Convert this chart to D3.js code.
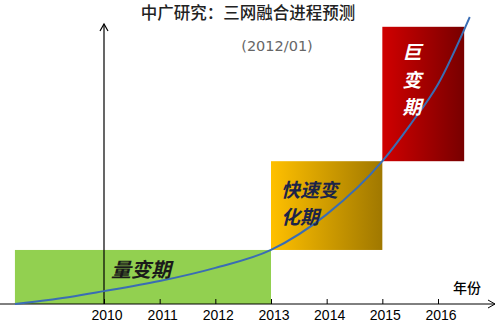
<!DOCTYPE html>
<html><head><meta charset="utf-8">
<script src="https://cdn.jsdelivr.net/npm/d3@7"></script>
<style>body{margin:0;background:#fff}svg{display:block}</style>
</head><body>
<svg id="c" width="500" height="322"></svg>
<script>
// ---- data ----
const title = "中广研究：三网融合进程预测";
const subtitle = "(2012/01)";
const tickYears = [2010, 2011, 2012, 2013, 2014, 2015, 2016];
const axisLabel = "年份";
const curveYears  = [2008.4, 2009, 2010, 2011, 2012, 2013, 2014, 2015, 2015.5, 2016, 2016.57];
const curveValues = [0, 1.4, 4.6, 8.2, 12.9, 19.3, 32, 51, 64, 78.5, 102.5];
const periodNames  = ["量变期", "快速变化期", "巨变期"];
const periodStarts = [2008.4, 2013, 2015];
const periodEnds   = [2013, 2015, 2016.47];
const periodLows   = [0, 19.3, 51];
const periodHighs  = [19.3, 51, 99];

// ---- scales ----
const svg = d3.select("#c");
const x = d3.scaleLinear().domain([2010, 2016]).range([104, 438]);
const y = d3.scaleLinear().domain([0, 100]).range([304, 24]);

const defs = svg.append("defs");
const grads = [
  ["g0", "#92d050", "#92d050"],
  ["g1", "#ffc000", "#a07800"],
  ["g2", "#d00000", "#780000"]
];
grads.forEach(([id, a, b]) => {
  const g = defs.append("linearGradient").attr("id", id).attr("x1", "0%").attr("x2", "100%").attr("y1", "0%").attr("y2", "0%");
  g.append("stop").attr("offset", "0%").attr("stop-color", a);
  g.append("stop").attr("offset", "100%").attr("stop-color", b);
});

// period rects
svg.selectAll("rect.p").data(periodNames).join("rect").attr("class", "p")
  .attr("x", (d, i) => x(periodStarts[i]))
  .attr("width", (d, i) => x(periodEnds[i]) - x(periodStarts[i]))
  .attr("y", (d, i) => y(periodHighs[i]))
  .attr("height", (d, i) => y(periodLows[i]) - y(periodHighs[i]))
  .attr("fill", (d, i) => `url(#g${i})`);

// axes
const axisG = svg.append("g");
axisG.append("line").attr("x1", 0).attr("x2", 495).attr("y1", y(0)).attr("y2", y(0)).attr("stroke", "#000").attr("stroke-width", 1);
axisG.append("path").attr("d", `M488,${y(0)-4}L495,${y(0)}L488,${y(0)+4}`).attr("fill", "none").attr("stroke", "#000");
axisG.append("line").attr("x1", x(2010)).attr("x2", x(2010)).attr("y1", y(0)).attr("y2", y(100)).attr("stroke", "#000").attr("stroke-width", 1.2);
axisG.append("path").attr("d", `M${x(2010)-4},${y(100)+7}L${x(2010)},${y(100)}L${x(2010)+4},${y(100)+7}`).attr("fill", "none").attr("stroke", "#000").attr("stroke-width", 1.2);

const xa = svg.append("g").attr("transform", `translate(0,${y(0)})`)
  .call(d3.axisTop(x).tickValues(tickYears).tickFormat(d3.format("d")).tickSize(5).tickPadding(0));
xa.select(".domain").remove();
xa.selectAll("text").remove();
svg.append("g").selectAll("text").data(tickYears).join("text")
  .attr("x", d => x(d) + 3).attr("y", 320).attr("text-anchor", "middle")
  .attr("font-family", "Liberation Sans, Arial, sans-serif").attr("font-size", 14).attr("fill", "#000")
  .text(d => d);

// curve
svg.append("path").datum(curveYears.map((d, i) => [d, curveValues[i]]))
  .attr("d", d3.line().x(d => x(d[0])).y(d => y(d[1])).curve(d3.curveMonotoneX))
  .attr("fill", "none").attr("stroke", "#3a6db4").attr("stroke-width", 2);

// texts
const cjk = "'Noto Sans CJK SC', sans-serif";
svg.append("text").attr("x", 248).attr("y", 19).attr("text-anchor", "middle")
  .attr("font-family", cjk).attr("font-size", 16.5).attr("font-weight", 500).attr("fill", "#222").text(title);
svg.append("text").attr("x", 277).attr("y", 51).attr("text-anchor", "middle")
  .attr("font-family", "DejaVu Sans, sans-serif").attr("font-size", 14.5).attr("fill", "#666").text(subtitle);
svg.append("text").attr("x", 467).attr("y", 293).attr("text-anchor", "middle")
  .attr("font-family", cjk).attr("font-size", 14).attr("font-weight", 500).attr("fill", "#000").text(axisLabel);

svg.append("text").attr("x", 141).attr("y", 277).attr("text-anchor", "middle")
  .attr("font-family", cjk).attr("font-size", 20).attr("font-weight", 600).attr("font-style", "italic").attr("fill", "#1a1a1a")
  .text(periodNames[0]);
const n1 = periodNames[1];
[n1.slice(0, 3), n1.slice(3)].forEach((t, i) => {
  svg.append("text").attr("x", 281).attr("y", 197 + i * 27)
    .attr("font-family", cjk).attr("font-size", 19).attr("font-weight", 600).attr("font-style", "italic").attr("fill", "#1c2448").text(t);
});
Array.from(periodNames[2]).forEach((t, i) => {
  svg.append("text").attr("x", 412).attr("y", 59 + i * 27.5).attr("text-anchor", "middle")
    .attr("font-family", cjk).attr("font-size", 19).attr("font-weight", 600).attr("font-style", "italic").attr("fill", "#fff").text(t);
});
</script>
</body></html>
